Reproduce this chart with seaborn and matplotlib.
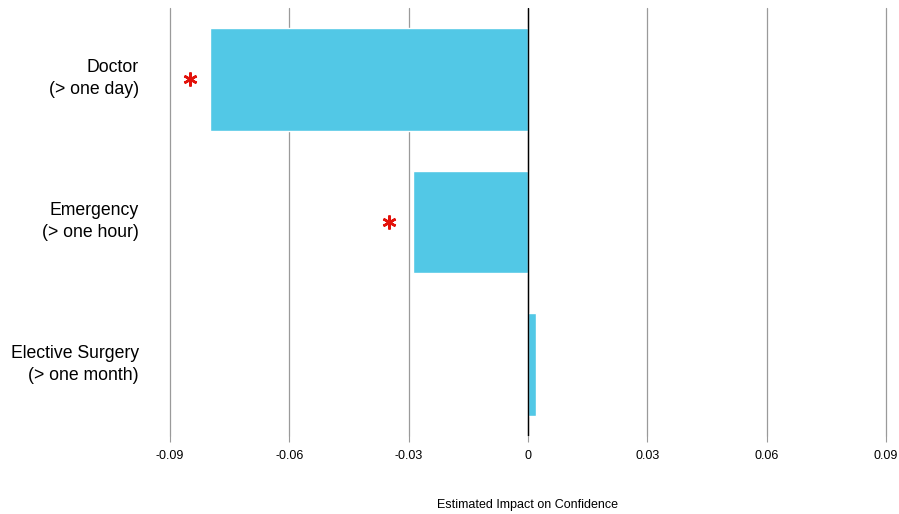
import matplotlib
matplotlib.use("Agg")
import matplotlib.pyplot as plt
import matplotlib.transforms as mtrans
import seaborn as sns
import pandas as pd

# values
categories = ["Doctor\n(> one day)", "Emergency\n(> one hour)", "Elective Surgery\n(> one month)"]
impact = [-0.080, -0.029, 0.002]
star_x = [-0.085, -0.035]
star_cat = [0, 1]
xticks = [-0.09, -0.06, -0.03, 0, 0.03, 0.06, 0.09]
xtick_labels = ["-0.09", "-0.06", "-0.03", "0", "0.03", "0.06", "0.09"]

sns.set_style("white")
plt.rcParams['font.family'] = ['Liberation Sans', 'DejaVu Sans']
plt.rcParams['text.color'] = 'black'
plt.rcParams['xtick.color'] = 'black'
plt.rcParams['ytick.color'] = 'black'
plt.rcParams['axes.labelcolor'] = 'black'

df = pd.DataFrame({"cat": categories, "impact": impact})

fig = plt.figure(figsize=(8.99, 5.14), dpi=100)
ax = fig.add_axes([0.189, 0.152, 0.7965, 0.8325])

ax.grid(axis="x", color="#9a9a9a", linewidth=0.9)
ax.set_axisbelow(True)
sns.barplot(data=df, x="impact", y="cat", orient="h", color="#52c8e6",
            saturation=1, width=0.72, ax=ax, zorder=2)
ax.axvline(0, color="black", linewidth=1, zorder=3)

ax.plot(star_x, star_cat, linestyle="none", marker=(6, 2, 0), markersize=10,
        markeredgewidth=1.8, color="#e3120b", zorder=4)

ax.set_xlim(-0.09, 0.09)
ax.set_ylim(2.5, -0.5)
ax.set_xticks(xticks)
ax.set_xticklabels(xtick_labels, fontsize=9)
ax.tick_params(axis="x", bottom=True, length=4, color="#9a9a9a", pad=6)
ax.tick_params(axis="y", left=False, labelsize=12.7, pad=19)
# labels sit a little above the bar centre in the reference
shift = mtrans.ScaledTranslation(0, 5 / 100, fig.dpi_scale_trans)
for lab in ax.get_yticklabels():
    lab.set_horizontalalignment("right")
    lab.set_linespacing(1.4)
    lab.set_transform(lab.get_transform() + shift)
for gl in ax.get_xgridlines():
    gl.set_clip_on(False)
ax.set_ylabel("")
ax.set_xlabel("Estimated Impact on Confidence", fontsize=9, labelpad=27)
for s in ax.spines.values():
    s.set_visible(False)

fig.savefig("out.png", dpi=100)
